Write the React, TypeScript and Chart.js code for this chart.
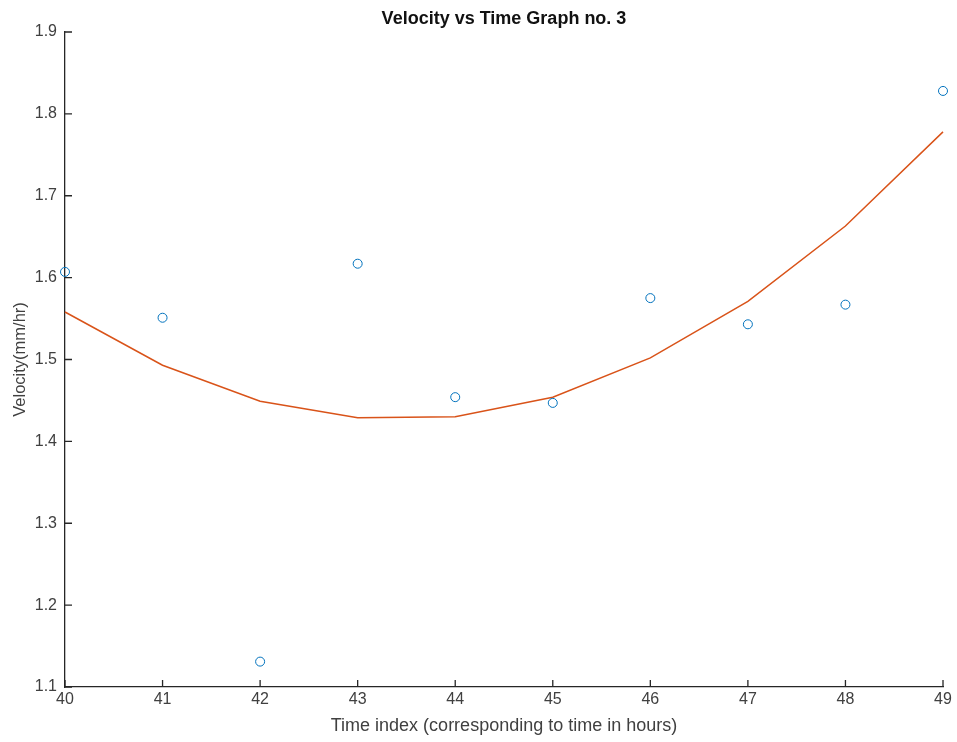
import React, { useEffect, useRef } from "react";
import { Chart, registerables } from "chart.js";

Chart.register(...registerables);

const timeIndex = [40, 41, 42, 43, 44, 45, 46, 47, 48, 49];
const velocity = [1.607, 1.551, 1.131, 1.617, 1.454, 1.447, 1.575, 1.543, 1.567, 1.828];
const fitted = [1.558, 1.493, 1.449, 1.429, 1.430, 1.454, 1.502, 1.571, 1.663, 1.778];
const yTicks = ["1.1", "1.2", "1.3", "1.4", "1.5", "1.6", "1.7", "1.8", "1.9"];

const AXIS = "#262626";
const FONT = "'Liberation Sans', Arial, Helvetica, sans-serif";

const inwardTicks = {
  id: "inwardTicks",
  afterDraw(chart: any) {
    const { ctx, chartArea, scales } = chart;
    const len = 7;
    ctx.save();
    ctx.strokeStyle = AXIS;
    ctx.lineWidth = 1.3;
    ctx.beginPath();
    for (const v of timeIndex) {
      const px = scales.x.getPixelForValue(v);
      ctx.moveTo(px, chartArea.bottom);
      ctx.lineTo(px, chartArea.bottom - len);
    }
    for (const t of yTicks) {
      const py = scales.y.getPixelForValue(parseFloat(t));
      ctx.moveTo(chartArea.left, py);
      ctx.lineTo(chartArea.left + len, py);
    }
    ctx.stroke();
    ctx.restore();
  },
};

export default function App() {
  const ref = useRef<HTMLCanvasElement>(null);
  useEffect(() => {
    if (!ref.current) return;
    const chart = new Chart(ref.current, {
      type: "scatter",
      data: {
        datasets: [
          {
            label: "Velocity",
            data: timeIndex.map((x, i) => ({ x, y: velocity[i] })),
            borderColor: "#0072BD",
            backgroundColor: "rgba(0,0,0,0)",
            pointStyle: "circle",
            pointRadius: 4.5,
            borderWidth: 1,
            showLine: false,
            clip: false as any,
          },
          {
            label: "Fit",
            data: timeIndex.map((x, i) => ({ x, y: fitted[i] })),
            borderColor: "#D95319",
            backgroundColor: "#D95319",
            borderWidth: 1.5,
            pointRadius: 0,
            showLine: true,
            tension: 0,
            clip: false as any,
          },
        ],
      },
      options: {
        animation: false,
        responsive: false,
        layout: { padding: { left: 0, right: 14, top: 0, bottom: 0 } },
        plugins: {
          legend: { display: false },
          tooltip: { enabled: false },
          title: {
            display: true,
            text: "Velocity vs Time Graph no. 3",
            fullSize: false,
            color: "#111111",
            font: { family: FONT, size: 18, weight: "bold" },
            padding: { top: 8, bottom: 2.4 },
          },
        },
        scales: {
          x: {
            type: "linear",
            min: 40,
            max: 49,
            grid: { display: false, drawTicks: false },
            border: { display: true, color: AXIS, width: 1.3 },
            ticks: {
              stepSize: 1,
              color: "#404040",
              padding: 3,
              font: { family: FONT, size: 16 },
              callback: (v: any) => String(v),
            },
            title: {
              display: true,
              text: "Time index (corresponding to time in hours)",
              color: "#404040",
              font: { family: FONT, size: 18 },
              padding: { top: 0, bottom: 5 },
            },
            afterFit: (s: any) => {
              s.height = 55;
            },
          },
          y: {
            type: "linear",
            min: 1.1,
            max: 1.9,
            grid: { display: false, drawTicks: false },
            border: { display: true, color: AXIS, width: 1.3 },
            afterBuildTicks: (s: any) => {
              s.ticks = yTicks.map((t) => ({ value: parseFloat(t) }));
            },
            ticks: {
              color: "#404040",
              padding: 8,
              font: { family: FONT, size: 16 },
              callback: (v: any) => Number(v).toFixed(1),
            },
            title: {
              display: true,
              text: "Velocity(mm/hr)",
              color: "#404040",
              font: { family: FONT, size: 16.5 },
              padding: { top: 11, bottom: 0 },
            },
            afterFit: (s: any) => {
              s.width = 65;
            },
          },
        },
      },
      plugins: [inwardTicks],
    });
    return () => chart.destroy();
  }, []);
  return (
    <div style={{ position: "absolute", left: 0, top: 0, width: 957, height: 742, background: "#ffffff" }}>
      <canvas ref={ref} width={957} height={742} style={{ display: "block" }} />
    </div>
  );
}
